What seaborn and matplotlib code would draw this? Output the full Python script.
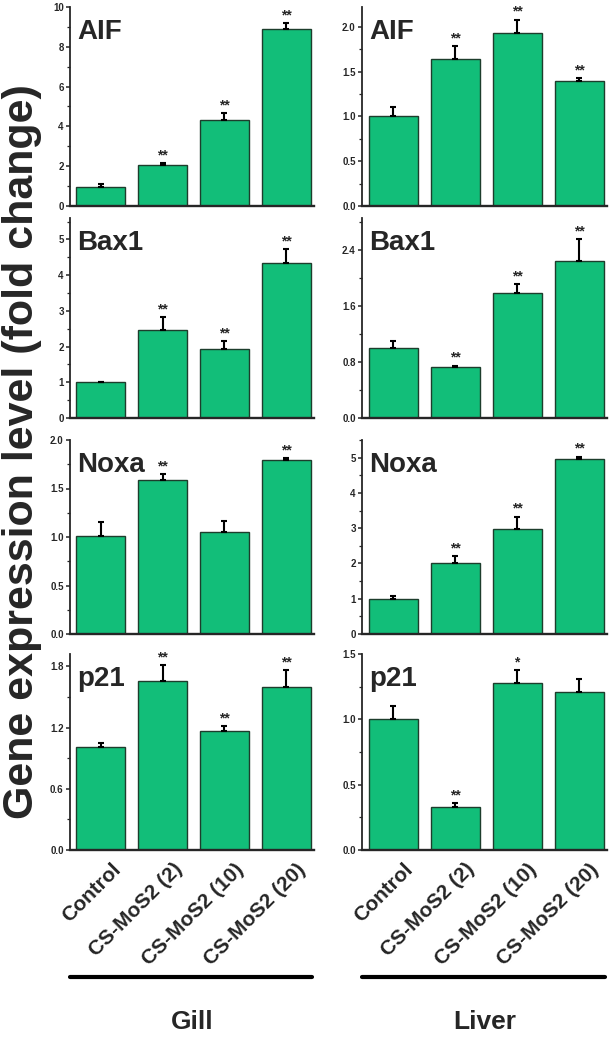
import numpy as np
import pandas as pd
import matplotlib
matplotlib.use("Agg")
import matplotlib.pyplot as plt
from matplotlib.ticker import MultipleLocator, FormatStrFormatter
from matplotlib.transforms import ScaledTranslation
import seaborn as sns

groups = ["Control", "CS-MoS2 (2)", "CS-MoS2 (10)", "CS-MoS2 (20)"]
genes = ["AIF", "Bax1", "Noxa", "p21"]
tissues = ["Gill", "Liver"]

gill_aif = [0.97, 2.08, 4.32, 8.90]
gill_aif_err = [0.13, 0.07, 0.33, 0.30]
gill_aif_sig = ["", "**", "**", "**"]
liver_aif = [1.00, 1.64, 1.93, 1.39]
liver_aif_err = [0.11, 0.14, 0.15, 0.04]
liver_aif_sig = ["", "**", "**", "**"]

gill_bax1 = [1.00, 2.47, 1.93, 4.34]
gill_bax1_err = [0.02, 0.35, 0.22, 0.38]
gill_bax1_sig = ["", "**", "**", "**"]
liver_bax1 = [1.00, 0.73, 1.79, 2.24]
liver_bax1_err = [0.10, 0.02, 0.12, 0.32]
liver_bax1_sig = ["", "**", "**", "**"]

gill_noxa = [1.01, 1.59, 1.05, 1.79]
gill_noxa_err = [0.14, 0.06, 0.11, 0.02]
gill_noxa_sig = ["", "**", "", "**"]
liver_noxa = [1.00, 2.02, 2.98, 4.95]
liver_noxa_err = [0.07, 0.18, 0.35, 0.08]
liver_noxa_sig = ["", "**", "**", "**"]

gill_p21 = [1.01, 1.66, 1.17, 1.60]
gill_p21_err = [0.04, 0.15, 0.04, 0.16]
gill_p21_sig = ["", "**", "**", "**"]
liver_p21 = [1.00, 0.33, 1.28, 1.21]
liver_p21_err = [0.10, 0.03, 0.10, 0.10]
liver_p21_sig = ["", "**", "*", ""]

# y-axis settings per panel: (ymax, major step, decimals)
gill_axes = [(10, 2, 0), (5.6, 1, 0), (2.0, 0.5, 1), (1.92, 0.6, 1)]
liver_axes = [(2.22, 0.5, 1), (2.86, 0.8, 1), (5.5, 1, 0), (1.5, 0.5, 1)]

panels = {
    "Gill": [(gill_aif, gill_aif_err, gill_aif_sig),
             (gill_bax1, gill_bax1_err, gill_bax1_sig),
             (gill_noxa, gill_noxa_err, gill_noxa_sig),
             (gill_p21, gill_p21_err, gill_p21_sig)],
    "Liver": [(liver_aif, liver_aif_err, liver_aif_sig),
              (liver_bax1, liver_bax1_err, liver_bax1_sig),
              (liver_noxa, liver_noxa_err, liver_noxa_sig),
              (liver_p21, liver_p21_err, liver_p21_sig)],
}
axis_specs = {"Gill": gill_axes, "Liver": liver_axes}

BAR_COLOR = "#12BE79"
EDGE_COLOR = "#1d3d2c"

sns.set_theme(style="ticks")
plt.rcParams["font.family"] = ["Liberation Sans", "DejaVu Sans"]
plt.rcParams["font.weight"] = "bold"

W, H = 614, 1038
fig = plt.figure(figsize=(W / 100, H / 100), dpi=100)

col_x = {"Gill": (70, 314), "Liver": (362, 607)}
row_y = [(7, 206), (218, 418), (440, 634), (654, 850)]

for tissue in tissues:
    x0, x1 = col_x[tissue]
    for r, gene in enumerate(genes):
        top, bot = row_y[r]
        ax = fig.add_axes([x0 / W, 1 - bot / H, (x1 - x0) / W, (bot - top) / H])
        vals, errs, sigs = panels[tissue][r]
        ymax, step, dec = axis_specs[tissue][r]
        df = pd.DataFrame({"group": groups, "value": vals})
        sns.barplot(data=df, x="group", y="value", color=BAR_COLOR, saturation=1,
                    edgecolor=EDGE_COLOR, linewidth=1.0, width=0.79, errorbar=None, ax=ax)
        xs = np.arange(len(groups))
        ax.errorbar(xs, vals, yerr=[np.zeros(len(vals)), errs], fmt="none",
                    ecolor="black", elinewidth=1.5, capsize=2.5, capthick=1.5)
        for i, s in enumerate(sigs):
            if s:
                ax.annotate(s, (xs[i], vals[i] + errs[i]), xytext=(0, 0.5),
                            textcoords="offset points", ha="center", va="bottom",
                            fontsize=10, fontweight="bold")
        ax.set_xlim(-0.5, 3.45)
        ax.set_ylim(0, ymax)
        ax.yaxis.set_major_locator(MultipleLocator(step))
        ax.yaxis.set_minor_locator(MultipleLocator(step / 2))
        ax.yaxis.set_major_formatter(FormatStrFormatter(f"%.{dec}f"))
        ax.tick_params(axis="y", which="major", length=3, width=1.1, labelsize=7, pad=1.5)
        ax.tick_params(axis="y", which="minor", length=2, width=0.9)
        ax.tick_params(axis="x", length=0, pad=7)
        sns.despine(ax=ax)
        ax.spines["left"].set_linewidth(1.3)
        ax.spines["bottom"].set_linewidth(1.7)
        ax.set_xlabel("")
        ax.set_ylabel("")
        if r == len(genes) - 1:
            ax.set_xticks(xs)
            ax.set_xticklabels(groups, rotation=45, ha="right", rotation_mode="anchor",
                               fontsize=15, fontweight="bold")
            shift = ScaledTranslation(10 / 100, 0, fig.dpi_scale_trans)
            for lab in ax.get_xticklabels():
                lab.set_transform(lab.get_transform() + shift)
        else:
            ax.set_xticklabels([])
        ax.text(0.03, 0.94, gene, transform=ax.transAxes, ha="left", va="top",
                fontsize=20, fontweight="bold")

    # bracket line and tissue label
    fig.add_artist(plt.Line2D([x0 / W, (x1 - 2) / W], [1 - 977 / H, 1 - 977 / H],
                              color="black", linewidth=3))
    fig.text((x0 + x1) / 2 / W, 1 - 1022 / H, tissue, ha="center", va="center",
             fontsize=19, fontweight="bold")

fig.text(22 / W, 1 - 452 / H, "Gene expression level (fold change)", rotation=90,
         ha="center", va="center", fontsize=31, fontweight="bold")

fig.savefig("out.png", dpi=100)
